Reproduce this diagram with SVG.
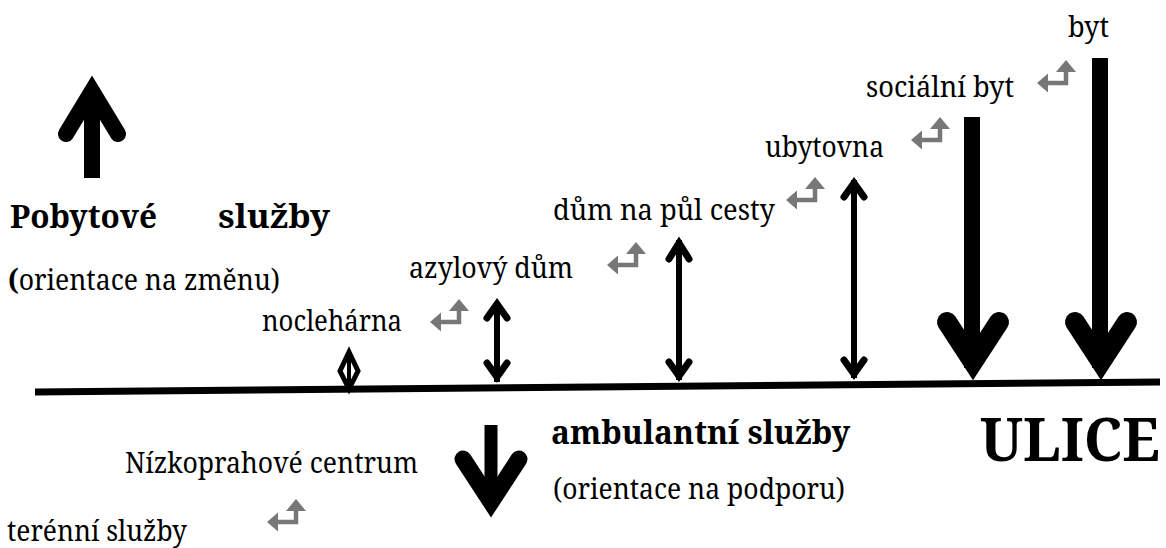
<svg xmlns="http://www.w3.org/2000/svg" xmlns:xlink="http://www.w3.org/1999/xlink" width="1166" height="548" viewBox="0 0 1166 548">
<style>
text{font-family:"Noto Serif","Liberation Serif","DejaVu Serif",serif;fill:#000}
.t{font-size:29px}
.b{font-weight:bold;font-size:33px}
.big{font-weight:bold;font-size:60px}
.blk{fill:none;stroke:#000;stroke-linecap:round;stroke-linejoin:miter;stroke-miterlimit:10}
.shaft{stroke:#000;stroke-linecap:butt}
</style>
<defs>
<g id="bent">
<path d="M9,0 H29 V-13" fill="none" stroke="#777" stroke-width="4.5"/>
<polygon points="0,0 11,-9.5 11,9.5" fill="#777"/>
<polygon points="29,-23 39,-11 19,-11" fill="#777"/>
</g>
</defs>

<g id="connectors">
<line x1="35" y1="392" x2="1160" y2="382" stroke="#000" stroke-width="7"/>
</g>

<g id="pobytove">
<line class="shaft" x1="92" y1="178" x2="92" y2="90" stroke-width="16"/>
<path class="blk" d="M66,134 L92,91 L118,134" stroke-width="16"/>
<text class="b" x="10" y="228" textLength="147" lengthAdjust="spacingAndGlyphs">Pobytové</text>
<text class="b" x="218" y="228" textLength="112" lengthAdjust="spacingAndGlyphs">služby</text>
<text class="t" x="8" y="290" textLength="272" lengthAdjust="spacingAndGlyphs"><tspan font-weight="bold">(</tspan>orientace na změnu)</text>
</g>

<g id="noclehaena">
<text class="t" x="262" y="331" textLength="140" lengthAdjust="spacingAndGlyphs">noclehárna</text>
<use xlink:href="#bent" x="430" y="322"/>
<path d="M349,352 L358,371 L349,389 L340,371 Z" fill="none" stroke="#000" stroke-width="5" stroke-linejoin="miter"/>
<line class="shaft" x1="349" y1="352" x2="349" y2="392" stroke-width="4"/>
</g>

<g id="azylovy">
<text class="t" x="409" y="278" textLength="164" lengthAdjust="spacingAndGlyphs">azylový dům</text>
<use xlink:href="#bent" x="607" y="265"/>
<line class="shaft" x1="497" y1="302" x2="497" y2="382" stroke-width="6"/>
<path class="blk" d="M487,318 L497,304 L507,318" stroke-width="7"/>
<path class="blk" d="M487,363 L497,377 L507,363" stroke-width="7"/>
</g>

<g id="dum">
<text class="t" x="553" y="220" textLength="222" lengthAdjust="spacingAndGlyphs">dům na půl cesty</text>
<use xlink:href="#bent" x="786" y="200"/>
<line class="shaft" x1="679" y1="240" x2="679" y2="380" stroke-width="6"/>
<path class="blk" d="M669,259 L679,243 L689,259" stroke-width="7"/>
<path class="blk" d="M669,362 L679,376 L689,362" stroke-width="7"/>
</g>

<g id="ubytovna">
<text class="t" x="765" y="157" textLength="119" lengthAdjust="spacingAndGlyphs">ubytovna</text>
<use xlink:href="#bent" x="911" y="140"/>
<line class="shaft" x1="854" y1="180" x2="854" y2="378" stroke-width="6"/>
<path class="blk" d="M844,197 L854,183 L864,197" stroke-width="7"/>
<path class="blk" d="M844,360 L854,374 L864,360" stroke-width="7"/>
</g>

<g id="socialni">
<text class="t" x="866" y="97" textLength="148" lengthAdjust="spacingAndGlyphs">sociální byt</text>
<use xlink:href="#bent" x="1037" y="83"/>
<line class="shaft" x1="972" y1="117" x2="972" y2="368" stroke-width="16"/>
<path class="blk" d="M947,322 L973,362 L999,322" stroke-width="20"/>
</g>

<g id="byt">
<text class="t" x="1068" y="37" textLength="41" lengthAdjust="spacingAndGlyphs">byt</text>
<line class="shaft" x1="1100" y1="58" x2="1100" y2="368" stroke-width="16"/>
<path class="blk" d="M1075,322 L1101,362 L1127,322" stroke-width="20"/>
</g>

<g id="ambulantni">
<line class="shaft" x1="491" y1="425" x2="491" y2="505" stroke-width="13"/>
<path class="blk" d="M463,459 L491,502 L519,459" stroke-width="17"/>
<text class="b" x="551" y="444" textLength="299" lengthAdjust="spacingAndGlyphs">ambulantní služby</text>
<text class="t" x="553" y="499" textLength="292" lengthAdjust="spacingAndGlyphs">(orientace na podporu)</text>
</g>

<g id="nizkoprahove">
<text class="t" x="125" y="473" textLength="293" lengthAdjust="spacingAndGlyphs">Nízkoprahové centrum</text>
<text class="t" x="7" y="541" textLength="180" lengthAdjust="spacingAndGlyphs">terénní služby</text>
<use xlink:href="#bent" x="267" y="522"/>
</g>

<g id="ulice">
<text class="big" x="980" y="461" textLength="180" lengthAdjust="spacingAndGlyphs">ULICE</text>
</g>
</svg>
